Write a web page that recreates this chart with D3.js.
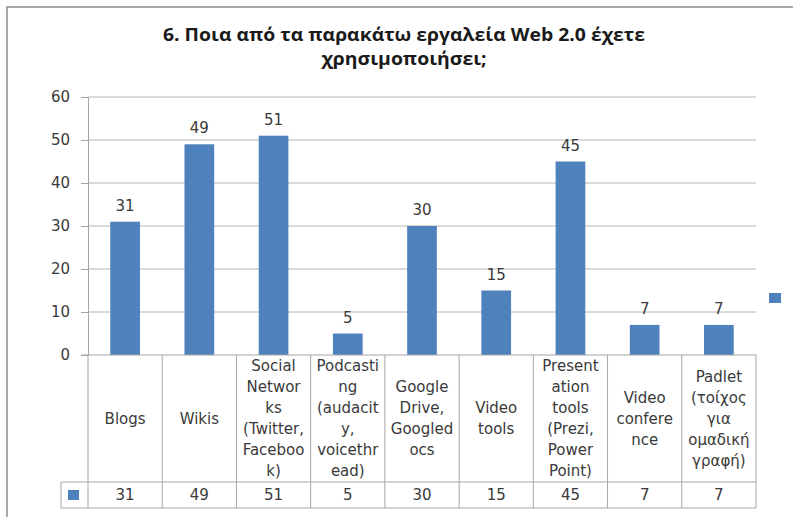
<!DOCTYPE html>
<html>
<head>
<meta charset="utf-8">
<script src="https://cdn.jsdelivr.net/npm/d3@7"></script>
<style>
  body { margin: 0; background: #fff; }
  svg { display: block; }
</style>
</head>
<body>
<div id="chart"></div>
<script>
// Data
const categories = ["Blogs", "Wikis", "Social Networks", "Podcasting", "Google Drive",
  "Video tools", "Presentation tools", "Video conference", "Padlet"];
// category text as wrapped in the table header
const categoryLines = [
  ["Blogs"],
  ["Wikis"],
  ["Social", "Networ", "ks", "(Twitter,", "Faceboo", "k)"],
  ["Podcasti", "ng", "(audacit", "y,", "voicethr", "ead)"],
  ["Google", "Drive,", "Googled", "ocs"],
  ["Video", "tools"],
  ["Present", "ation", "tools", "(Prezi,", "Power", "Point)"],
  ["Video", "confere", "nce"],
  ["Padlet", "(τοίχος", "για", "ομαδική", "γραφή)"]
];
const values = [31, 49, 51, 5, 30, 15, 45, 7, 7];
const yTicks = [0, 10, 20, 30, 40, 50, 60];
const titleLines = ["6. Ποια από τα παρακάτω εργαλεία Web 2.0 έχετε", "χρησιμοποιήσει;"];

const width = 793, height = 517;
const margin = { top: 97, left: 88, right: 37, bottom: 162 };
const barColor = "#4f81bd";
const textColor = "#3a3a3a";
const font = "'DejaVu Sans', Verdana, sans-serif";

let svg = d3.select("#chart")
  .append("svg")
  .attr("width", width)
  .attr("height", height)
  .style("background", "#fff");

// outer chart border (runs off the right and bottom edges)
svg.append("rect")
  .attr("x", 7).attr("y", 7)
  .attr("width", width + 10).attr("height", height + 10)
  .attr("fill", "none")
  .attr("stroke", "#8c8c8c")
  .attr("stroke-width", 1.5);

// title (the original is a bit stretched sideways)
svg.append("text")
  .attr("transform", "translate(404,41) scale(1.14,1)")
  .attr("text-anchor", "middle")
  .style("font-family", "'Open Sans', sans-serif")
  .style("font-weight", "bold")
  .style("font-size", "17px")
  .style("fill", "#1a1a1a")
  .selectAll("tspan")
  .data(titleLines)
  .enter().append("tspan")
  .attr("x", 0)
  .attr("y", (d, i) => i * 24)
  .text(d => d);

// scales
let yScale = d3.scaleLinear()
  .domain([0, 60])
  .range([355, margin.top]);

let xScale = d3.scaleBand()
  .domain(categories)
  .range([margin.left, width - margin.right])
  .paddingInner(0.6)
  .paddingOuter(0.3);

const step = xScale.step();
const plotRight = xScale.range()[1];
const tableTop = 355, rowTop = 482, tableBottom = 508;

// gridlines
svg.append("g")
  .selectAll("line")
  .data(yTicks.filter(d => d > 0))
  .enter().append("line")
  .attr("x1", margin.left).attr("x2", plotRight)
  .attr("y1", d => yScale(d)).attr("y2", d => yScale(d))
  .attr("stroke", "#b4b4b4")
  .attr("stroke-width", 1);

// y axis
let yAxis = svg.append("g")
  .attr("transform", `translate(${margin.left},0)`)
  .call(d3.axisLeft(yScale).tickValues(yTicks).tickSize(7).tickSizeOuter(0).tickPadding(11));
yAxis.select(".domain").attr("stroke", "#a6a6a6");
yAxis.selectAll(".tick line").attr("stroke", "#a6a6a6");
yAxis.selectAll(".tick text")
  .style("font-family", font)
  .style("font-size", "15px")
  .style("fill", textColor);

// bars
svg.selectAll("rect.bar")
  .data(values)
  .enter().append("rect")
  .attr("class", "bar")
  .attr("x", (d, i) => xScale(categories[i]))
  .attr("y", d => yScale(d))
  .attr("width", xScale.bandwidth())
  .attr("height", d => yScale(0) - yScale(d))
  .attr("fill", barColor);

// data labels
svg.selectAll("text.label")
  .data(values)
  .enter().append("text")
  .attr("class", "label")
  .attr("x", (d, i) => xScale(categories[i]) + xScale.bandwidth() / 2)
  .attr("y", d => yScale(d) - 11)
  .attr("text-anchor", "middle")
  .style("font-family", font)
  .style("font-size", "15px")
  .style("fill", textColor)
  .text(d => d);

// data table
const cellLeft = i => xScale(categories[i]) - step * xScale.paddingInner() / 2;
const bounds = categories.map((d, i) => cellLeft(i)).concat([plotRight]);
const table = svg.append("g").attr("stroke", "#a6a6a6").attr("stroke-width", 1);

// axis baseline / top of the table
table.append("line")
  .attr("x1", margin.left - 7).attr("x2", plotRight)
  .attr("y1", tableTop).attr("y2", tableTop);

table.selectAll("line.v")
  .data(bounds)
  .enter().append("line")
  .attr("class", "v")
  .attr("x1", d => d).attr("x2", d => d)
  .attr("y1", tableTop).attr("y2", tableBottom);

[rowTop, tableBottom].forEach(yy => {
  table.append("line")
    .attr("x1", 61).attr("x2", plotRight)
    .attr("y1", yy).attr("y2", yy);
});
table.append("line")
  .attr("x1", 61).attr("x2", 61)
  .attr("y1", rowTop).attr("y2", tableBottom);

// category labels
const headerMid = (tableTop + rowTop) / 2;
const lineH = 21;
categoryLines.forEach((lines, i) => {
  const cx = cellLeft(i) + step / 2;
  svg.append("text")
    .attr("text-anchor", "middle")
    .style("font-family", font)
    .style("font-size", "15px")
    .style("fill", textColor)
    .selectAll("tspan")
    .data(lines)
    .enter().append("tspan")
    .attr("x", cx)
    .attr("y", (d, j) => headerMid - (lines.length - 1) * lineH / 2 + j * lineH + 5)
    .text(d => d);
});

// value row
svg.selectAll("text.cell")
  .data(values)
  .enter().append("text")
  .attr("class", "cell")
  .attr("x", (d, i) => cellLeft(i) + step / 2)
  .attr("y", (rowTop + tableBottom) / 2 + 5)
  .attr("text-anchor", "middle")
  .style("font-family", font)
  .style("font-size", "15px")
  .style("fill", textColor)
  .text(d => d);

// legend key in the table
svg.append("rect")
  .attr("x", 68).attr("y", 490)
  .attr("width", 11).attr("height", 10)
  .attr("fill", barColor);

// legend on the right
svg.append("rect")
  .attr("x", 769).attr("y", 293)
  .attr("width", 12).attr("height", 10)
  .attr("fill", barColor);
</script>
</body>
</html>
